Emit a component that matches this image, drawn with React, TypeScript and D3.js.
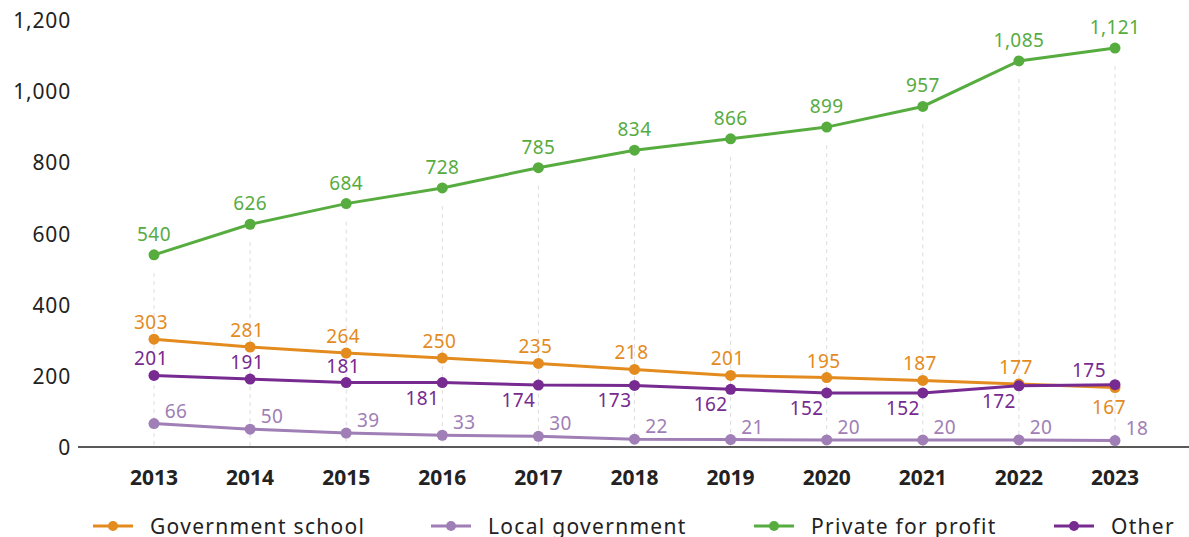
import React from "react";
import * as d3 from "d3";

const years = ["2013", "2014", "2015", "2016", "2017", "2018", "2019", "2020", "2021", "2022", "2023"];
const governmentSchool = [303, 281, 264, 250, 235, 218, 201, 195, 187, 177, 167];
const localGovernment = [66, 50, 39, 33, 30, 22, 21, 20, 20, 20, 18];
const privateForProfit = [540, 626, 684, 728, 785, 834, 866, 899, 957, 1085, 1121];
const other = [201, 191, 181, 181, 174, 173, 162, 152, 152, 172, 175];
const yTicks = [0, 200, 400, 600, 800, 1000, 1200];

const govPlacement = ["a", "a", "a", "a", "a", "a", "a", "a", "a", "a", "b"];
const otherPlacement = ["a", "a", "a", "bl", "bl", "bl", "bl", "bl", "bl", "bl", "al"];
const localPlacement = ["ar", "ar", "ar", "ar", "ar", "ar", "ar", "ar", "ar", "ar", "ar"];
const privatePlacement = ["ag", "ag", "ag", "ag", "ag", "ag", "ag", "ag", "ag", "ag", "ag"];

const series = [
  { name: "Government school", values: governmentSchool, color: "#E38B1E", placement: govPlacement },
  { name: "Local government", values: localGovernment, color: "#A07EB6", placement: localPlacement },
  { name: "Private for profit", values: privateForProfit, color: "#57AC3F", placement: privatePlacement },
  { name: "Other", values: other, color: "#772A90", placement: otherPlacement },
];

const offsets: Record<string, [number, number]> = {
  a: [-3, -17],
  b: [-6, 19],
  bl: [-20, 15],
  al: [-26, -15],
  ar: [22, -13],
  ag: [0, -21],
};

const legendX = [93, 431, 754, 1054];

export default function App() {
  const W = 1189, H = 537;
  const x = d3.scalePoint<string>().domain(years).range([154, 1115]);
  const y = d3.scaleLinear().domain([0, 1200]).range([447, 20]);
  const line = d3.line<number>().x((_, i) => x(years[i])!).y((d) => y(d));
  const font = "'Noto Sans', sans-serif";
  const fmt = d3.format(",");

  return (
    <svg width={W} height={H} style={{ position: "absolute", left: 0, top: 0, background: "#fff" }} fontFamily={font}>
      {/* drop gridlines */}
      {years.map((yr, i) => (
        <line key={yr} x1={x(yr)} x2={x(yr)} y1={y(privateForProfit[i]) + 18} y2={y(0)}
          stroke="#dcdcdc" strokeWidth={1} strokeDasharray="4,4" />
      ))}
      {/* y ticks */}
      {yTicks.map((t) => (
        <text key={t} x={71} y={y(t)} textAnchor="end" dominantBaseline="central" fontSize={21} letterSpacing={0.8} fill="#222">
          {fmt(t)}
        </text>
      ))}
      {/* axis */}
      <line x1={78} x2={W} y1={y(0)} y2={y(0)} stroke="#222" strokeWidth={1.5} />
      {years.map((yr) => (
        <text key={yr} x={x(yr)} y={477} textAnchor="middle" dominantBaseline="central" fontSize={21} fontWeight={700} fill="#222">
          {yr}
        </text>
      ))}
      {/* series */}
      {series.map((s) => (
        <g key={s.name}>
          <path d={line(s.values)!} fill="none" stroke={s.color} strokeWidth={3} />
          {s.values.map((v, i) => (
            <circle key={i} cx={x(years[i])} cy={y(v)} r={5.5} fill={s.color} />
          ))}
          {s.values.map((v, i) => {
            const [dx, dy] = offsets[s.placement[i]];
            return (
              <text key={"t" + i} x={x(years[i])! + dx} y={y(v) + dy} textAnchor="middle" dominantBaseline="central"
                fontSize={19} letterSpacing={0.4} fill={s.color}>
                {fmt(v)}
              </text>
            );
          })}
        </g>
      ))}
      {/* legend */}
      {series.map((s, i) => (
        <g key={"l" + s.name} transform={`translate(${legendX[i]},526)`}>
          <line x1={0} x2={40} y1={0} y2={0} stroke={s.color} strokeWidth={3} />
          <circle cx={20} cy={0} r={5} fill={s.color} />
          <text x={57} y={0} dominantBaseline="central" fontSize={21} letterSpacing={1.3} fill="#222">{s.name}</text>
        </g>
      ))}
    </svg>
  );
}
